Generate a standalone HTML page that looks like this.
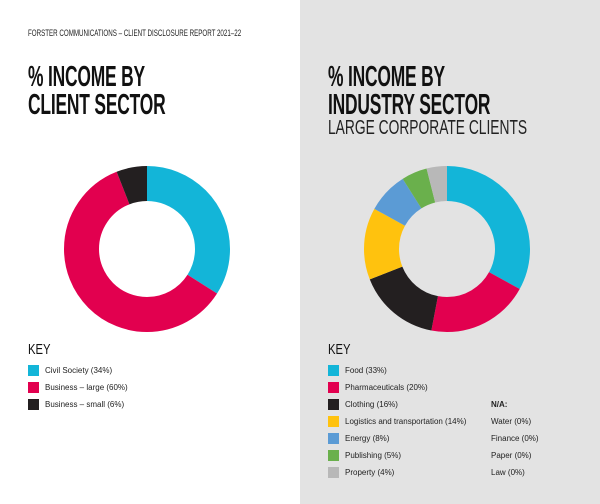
<!DOCTYPE html>
<html><head><style>
body{margin:0;width:600px;height:504px;position:relative;overflow:hidden;background:#fff;font-family:"Liberation Sans",sans-serif;}
.rp{position:absolute;left:300px;top:0;width:300px;height:504px;background:#e3e3e3;}
.t{position:absolute;white-space:nowrap;}
.n{font-family:"Liberation Sans Narrow","Liberation Sans",sans-serif;}
.h{font-weight:bold;font-size:29px;line-height:28px;color:#111;transform:scaleX(0.6);transform-origin:left top;letter-spacing:-0.3px}
.k{font-size:15px;color:#111;transform:scaleX(0.75);transform-origin:left top}
.sw{position:absolute;width:11px;height:11px;}
.l{position:absolute;font-size:8px;color:#222;white-space:nowrap;line-height:11px}
</style></head><body>
<div class="rp"></div>
<div class="t n" style="left:28px;top:28px;font-size:9px;color:#222;transform:scaleX(0.69);transform-origin:left top">FORSTER COMMUNICATIONS – CLIENT DISCLOSURE REPORT 2021–22</div>
<div class="t n h" style="left:28px;top:63px">% INCOME BY<br>CLIENT SECTOR</div>
<div class="t n h" style="left:328px;top:63px">% INCOME BY<br>INDUSTRY SECTOR</div>
<div class="t n" style="left:328px;top:117px;font-size:20px;color:#222;transform:scaleX(0.69);transform-origin:left top">LARGE CORPORATE CLIENTS</div>
<svg width="600" height="504" style="position:absolute;left:0;top:0">
<g transform="rotate(-90 147 249)" fill="none" stroke-width="35">
<circle cx="147" cy="249" r="65.5" stroke="#13b5d8" stroke-dasharray="139.93 411.55" stroke-dashoffset="0"/>
<circle cx="147" cy="249" r="65.5" stroke="#e2004f" stroke-dasharray="246.93 411.55" stroke-dashoffset="-139.93"/>
<circle cx="147" cy="249" r="65.5" stroke="#231f20" stroke-dasharray="24.69 411.55" stroke-dashoffset="-386.86"/>
</g>
<g transform="rotate(-90 447 249)" fill="none" stroke-width="35">
<circle cx="447" cy="249" r="65.5" stroke="#13b5d8" stroke-dasharray="135.81 411.55" stroke-dashoffset="0"/>
<circle cx="447" cy="249" r="65.5" stroke="#e2004f" stroke-dasharray="82.31 411.55" stroke-dashoffset="-135.81"/>
<circle cx="447" cy="249" r="65.5" stroke="#231f20" stroke-dasharray="65.85 411.55" stroke-dashoffset="-218.12"/>
<circle cx="447" cy="249" r="65.5" stroke="#ffc20e" stroke-dasharray="57.62 411.55" stroke-dashoffset="-283.97"/>
<circle cx="447" cy="249" r="65.5" stroke="#5b9bd5" stroke-dasharray="32.92 411.55" stroke-dashoffset="-341.59"/>
<circle cx="447" cy="249" r="65.5" stroke="#6ab04c" stroke-dasharray="20.58 411.55" stroke-dashoffset="-374.51"/>
<circle cx="447" cy="249" r="65.5" stroke="#b8b8b8" stroke-dasharray="16.46 411.55" stroke-dashoffset="-395.09"/>
</g>
</svg>
<div class="t n k" style="left:28px;top:341px">KEY</div>
<div class="t n k" style="left:328px;top:341px">KEY</div>
<div class="sw" style="left:28px;top:365px;background:#13b5d8"></div><div class="l" style="left:45px;top:365px">Civil Society (34%)</div>
<div class="sw" style="left:28px;top:382px;background:#e2004f"></div><div class="l" style="left:45px;top:382px">Business – large (60%)</div>
<div class="sw" style="left:28px;top:399px;background:#231f20"></div><div class="l" style="left:45px;top:399px">Business – small (6%)</div>
<div class="sw" style="left:328px;top:365px;background:#13b5d8"></div><div class="l" style="left:345px;top:365px">Food (33%)</div>
<div class="sw" style="left:328px;top:382px;background:#e2004f"></div><div class="l" style="left:345px;top:382px">Pharmaceuticals (20%)</div>
<div class="sw" style="left:328px;top:399px;background:#231f20"></div><div class="l" style="left:345px;top:399px">Clothing (16%)</div>
<div class="sw" style="left:328px;top:416px;background:#ffc20e"></div><div class="l" style="left:345px;top:416px">Logistics and transportation (14%)</div>
<div class="sw" style="left:328px;top:433px;background:#5b9bd5"></div><div class="l" style="left:345px;top:433px">Energy (8%)</div>
<div class="sw" style="left:328px;top:450px;background:#6ab04c"></div><div class="l" style="left:345px;top:450px">Publishing (5%)</div>
<div class="sw" style="left:328px;top:467px;background:#b8b8b8"></div><div class="l" style="left:345px;top:467px">Property (4%)</div>
<div class="l" style="left:491px;top:399px;font-weight:bold">N/A:</div>
<div class="l" style="left:491px;top:416px">Water (0%)</div>
<div class="l" style="left:491px;top:433px">Finance (0%)</div>
<div class="l" style="left:491px;top:450px">Paper (0%)</div>
<div class="l" style="left:491px;top:467px">Law (0%)</div>
</body></html>
